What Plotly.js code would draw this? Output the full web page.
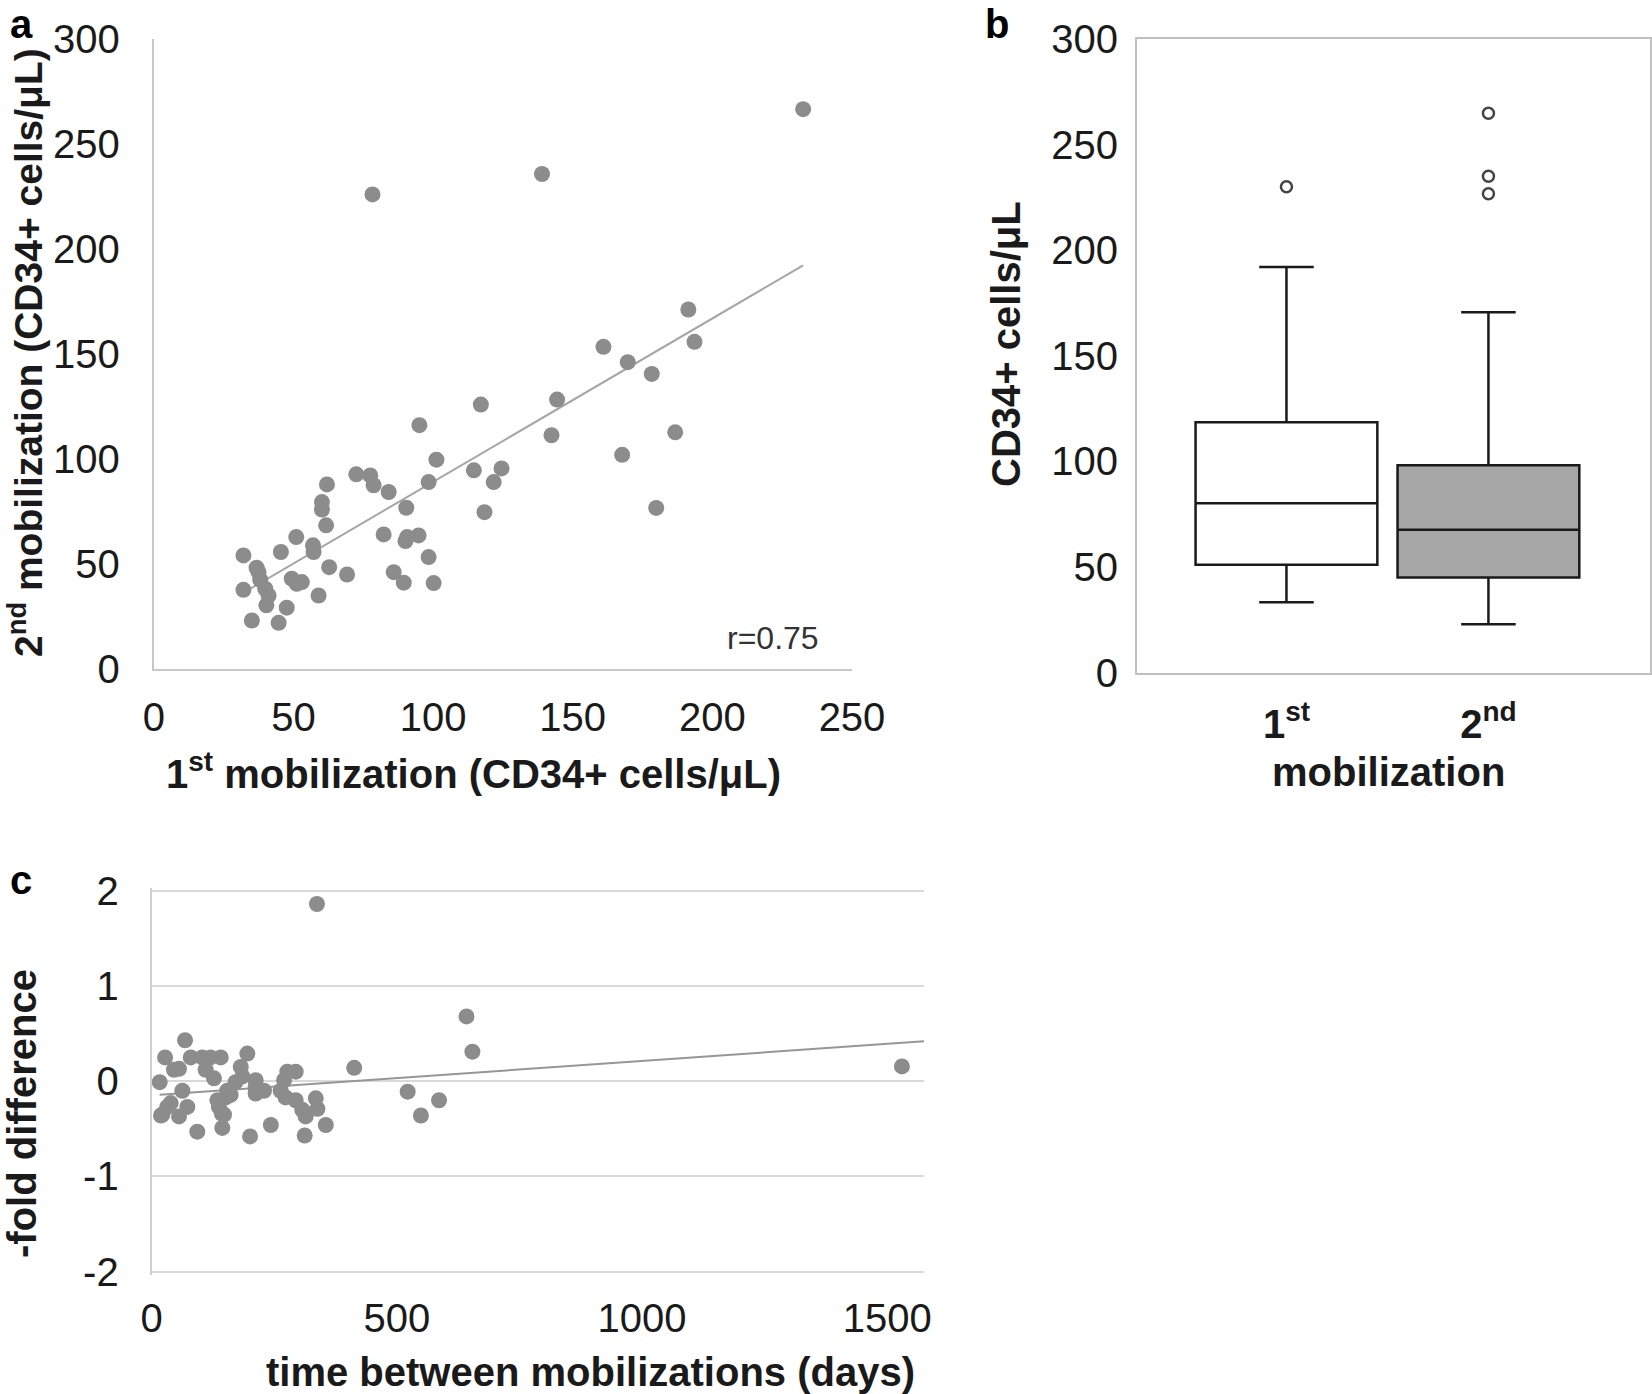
<!DOCTYPE html>
<html>
<head>
<meta charset="utf-8">
<script src="https://cdn.plot.ly/plotly-3.0.1.min.js"></script>
<style>
  html, body { margin: 0; padding: 0; background: #fff; }
  #chart { width: 1652px; height: 1394px; }
</style>
</head>
<body>
<div id="chart"></div>
<script>
// panel a: CD34+ cells/uL at first and second mobilization (same patients)
var firstMob = [
    232.5, 139, 78.3, 191.4, 193.6, 161, 169.7, 178.3, 117.1, 144.4,
    142.4, 186.7, 167.7, 124.5, 179.9,
    95.1, 101.2, 98.4, 114.6, 121.7, 118.4, 62, 60.2, 60.2, 61.7,
    72.5, 77.5, 78.7, 84.1, 90.4, 82.3, 90.7, 94.8, 90.1, 98.4,
    100.2, 85.9, 89.5, 69.2, 62.8, 59, 51, 57, 57.2, 45.5,
    32.1, 32.1, 37.5, 38.1, 39.9, 41.1, 40.3, 47.6, 35.1, 44.7,
    49.4, 53, 51.2, 36.8
];
var secondMob = [
    266.6, 235.7, 226, 171.2, 155.8, 153.4, 146.1, 140.5, 125.9, 128.3,
    111.3, 112.7, 102, 95.5, 76.7,
    116.1, 99.7, 89.0, 94.6, 89.0, 74.7, 87.9, 79.5, 75.9, 68.4,
    92.7, 92.2, 87.5, 84.3, 76.8, 64.1, 62.8, 63.6, 60.9, 53.3,
    40.9, 46.1, 41.1, 45.0, 48.5, 35.0, 62.8, 58.9, 55.7, 55.7,
    54.1, 37.7, 46.1, 42.5, 38.2, 35.0, 30.3, 29.2, 23.1, 22.0,
    43.0, 41.4, 40.6, 48.2
];
var corrLabel = 'r=0.75';

// panel b: box plot summary
var boxGroups = ['1st', '2nd'];
var boxLabels = ['1<sup>st</sup>', '2<sup>nd</sup>'];
var boxQ1 = [51.0, 45.0];
var boxMedian = [80.2, 67.6];
var boxQ3 = [118.6, 98.2];
var boxLow = [33.3, 22.9];
var boxHigh = [192.1, 170.7];
var outlierGroup = ['1st', '2nd', '2nd', '2nd'];
var outlierValue = [230.1, 265, 235.1, 226.8];

// panel c: time between mobilizations vs -fold difference
var days = [
    68, 27.3, 16.3, 45.5, 55.7, 79.6, 103, 120, 140.8, 110,
    127, 195, 181.6, 185, 171, 212, 212, 276.6, 293.6, 270,
    263, 273, 293.6, 307, 334.6, 338, 314, 355, 312, 243,
    200.6, 144, 147.5, 137, 134, 151, 154, 93, 62.5, 72.7,
    55.7, 38.7, 21.6, 31.8, 212, 229, 413, 522, 549, 586,
    337, 642, 654, 1530, 143, 161, 19
];
var foldDiff = [
    0.43, 0.25, -0.01, 0.12, 0.13, 0.25, 0.25, 0.25, 0.25, 0.12,
    0.03, 0.29, 0.15, 0.05, -0.01, -0.06, -0.13, 0.1, 0.1, 0.01,
    -0.1, -0.17, -0.2, -0.3, -0.18, -0.29, -0.37, -0.46, -0.57, -0.46,
    -0.58, -0.49, -0.35, -0.27, -0.2, -0.17, -0.1, -0.53, -0.1, -0.27,
    -0.37, -0.23, -0.35, -0.27, 0.01, -0.1, 0.14, -0.11, -0.36, -0.2,
    1.86, 0.68, 0.31, 0.155, -0.34, -0.144, -0.36
];
// trend line of panel c as drawn in the figure (slope per day, intercept)
var trendC = { slope: 0.00036, intercept: -0.147 };
var foldTicks = [-2, -1, 0, 1, 2];
var foldTickText = ['-2', '-1', '0', '1', '2'];

var W = 1652, H = 1394;
function px(x) { return x / W; }
function py(y) { return 1 - y / H; }

function linearFit(xs, ys) {
    var n = xs.length, mx = 0, my = 0;
    for (var i = 0; i < n; i++) { mx += xs[i]; my += ys[i]; }
    mx /= n; my /= n;
    var sxy = 0, sxx = 0;
    for (var j = 0; j < n; j++) {
        sxy += (xs[j] - mx) * (ys[j] - my);
        sxx += (xs[j] - mx) * (xs[j] - mx);
    }
    var slope = sxy / sxx;
    return { slope: slope, intercept: my - slope * mx };
}

var FONT = 'Liberation Sans, Arial, sans-serif';
var TXT = '#1a1a1a';
var DOT = '#8c8c8c';
var DAYS_MAX = 1575;

var fitA = linearFit(firstMob, secondMob);
var aLo = Math.min.apply(null, firstMob), aHi = Math.max.apply(null, firstMob);
var cLo = Math.min.apply(null, days);

var data = [];
data.push({
    x: [aLo, aHi],
    y: [fitA.intercept + fitA.slope * aLo, fitA.intercept + fitA.slope * aHi],
    mode: 'lines', line: { color: '#a6a6a6', width: 2 },
    xaxis: 'x', yaxis: 'y', hoverinfo: 'skip'
});
data.push({
    x: firstMob, y: secondMob, mode: 'markers',
    marker: { color: DOT, size: 16 },
    xaxis: 'x', yaxis: 'y'
});

var boxFill = ['#ffffff', '#a6a6a6'];
for (var b = 0; b < boxGroups.length; b++) {
    data.push({
        type: 'box',
        x: [boxGroups[b]],
        q1: [boxQ1[b]], median: [boxMedian[b]], q3: [boxQ3[b]],
        lowerfence: [boxLow[b]], upperfence: [boxHigh[b]],
        fillcolor: boxFill[b],
        line: { color: '#1a1a1a', width: 2.5 },
        whiskerwidth: 0.3,
        width: 0.9,
        boxpoints: false,
        xaxis: 'x2', yaxis: 'y2'
    });
}
data.push({
    x: outlierGroup, y: outlierValue, mode: 'markers',
    marker: { symbol: 'circle-open', size: 11, color: '#444', line: { width: 2.5, color: '#444' } },
    xaxis: 'x2', yaxis: 'y2'
});

data.push({
    x: [cLo, DAYS_MAX],
    y: [trendC.intercept + trendC.slope * cLo, trendC.intercept + trendC.slope * DAYS_MAX],
    mode: 'lines', line: { color: '#969696', width: 2 },
    xaxis: 'x3', yaxis: 'y3', hoverinfo: 'skip'
});
data.push({
    x: days, y: foldDiff, mode: 'markers',
    marker: { color: DOT, size: 16 },
    xaxis: 'x3', yaxis: 'y3'
});

var tickFont = { family: FONT, size: 40, color: TXT };
var boldFont = { family: FONT, size: 40, color: TXT, weight: 'bold' };
var letterFont = { family: FONT, size: 40, color: '#000' };

function ann(text, x, y, font, angle) {
    return {
        text: text, xref: 'paper', yref: 'paper',
        x: px(x), y: py(y), xanchor: 'center', yanchor: 'middle',
        showarrow: false, font: font, textangle: angle || 0
    };
}
// panel letter pinned to the top edge so it is not clipped
function topLetter(text, x) {
    return {
        text: text, xref: 'paper', yref: 'paper',
        x: px(x), y: 1, xanchor: 'center', yanchor: 'top',
        showarrow: false, font: letterFont
    };
}

var layout = {
    width: W, height: H,
    margin: { l: 0, r: 0, t: 0, b: 0 },
    paper_bgcolor: '#ffffff', plot_bgcolor: 'rgba(0,0,0,0)',
    showlegend: false,
    font: { family: FONT, color: TXT },
    xaxis: {
        domain: [px(153.8), px(852)], anchor: 'y',
        range: [0, 250], dtick: 50, tick0: 0,
        showline: true, linecolor: '#c8c8c8', linewidth: 2,
        showgrid: false, zeroline: false, ticks: '',
        tickfont: tickFont, ticklabelstandoff: 12
    },
    yaxis: {
        domain: [py(669), py(39)], anchor: 'x',
        range: [0, 300], dtick: 50, tick0: 0,
        showline: true, linecolor: '#c8c8c8', linewidth: 2,
        showgrid: false, zeroline: false, ticks: '',
        tickfont: tickFont, ticklabelstandoff: 24
    },
    xaxis2: {
        domain: [px(1137), px(1650)], anchor: 'y2',
        type: 'category', range: [-0.74, 1.8],
        tickvals: boxGroups, ticktext: boxLabels,
        showline: true, mirror: true, linecolor: '#c0c0c0', linewidth: 2,
        showgrid: false, zeroline: false, ticks: '',
        tickfont: boldFont, ticklabelstandoff: 15
    },
    yaxis2: {
        domain: [py(672.5), py(39.3)], anchor: 'x2',
        range: [0, 300], dtick: 50, tick0: 0,
        showline: true, mirror: true, linecolor: '#c0c0c0', linewidth: 2,
        showgrid: false, zeroline: false, ticks: '',
        tickfont: tickFont, ticklabelstandoff: 9
    },
    xaxis3: {
        domain: [px(151.7), px(924)], anchor: 'y3',
        range: [0, DAYS_MAX], dtick: 500, tick0: 0,
        showline: false, showgrid: false, zeroline: false, ticks: '',
        tickfont: tickFont, ticklabelstandoff: 16
    },
    yaxis3: {
        domain: [py(1274.6), py(887.8)], anchor: 'x3',
        range: [-2.03, 2.03],
        tickmode: 'array', tickvals: foldTicks, ticktext: foldTickText,
        showline: true, linecolor: '#cfcfcf', linewidth: 2,
        showgrid: true, gridcolor: '#d9d9d9', gridwidth: 2,
        zeroline: false, ticks: '',
        tickfont: tickFont, ticklabelstandoff: 23
    },
    annotations: [
        topLetter('<b>a</b>', 21.5),
        topLetter('<b>b</b>', 997),
        ann('<b>c</b>', 21, 880, letterFont),
        ann('1<sup>st</sup> mobilization (CD34+ cells/μL)', 473, 771, boldFont),
        ann('2<sup>nd</sup> mobilization (CD34+ cells/μL)', 26, 353, { family: FONT, size: 39, color: TXT, weight: 'bold' }, -90),
        ann(corrLabel, 772.8, 637.5, { family: FONT, size: 32, color: '#333' }),
        ann('CD34+ cells/μL', 1006, 344, boldFont, -90),
        ann('mobilization', 1388, 772, boldFont),
        ann('time between mobilizations (days)', 590, 1371.8, boldFont),
        ann('-fold difference', 22, 1114, boldFont, -90)
    ]
};

Plotly.newPlot('chart', data, layout, { staticPlot: true, displayModeBar: false });
</script>
</body>
</html>
